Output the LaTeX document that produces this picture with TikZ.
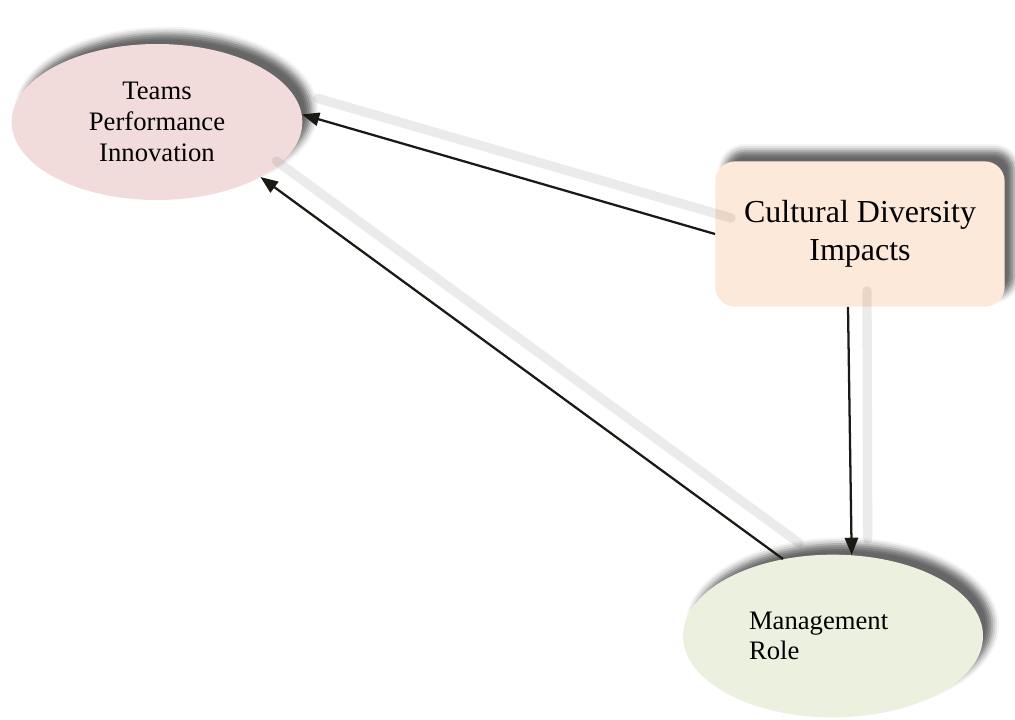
\documentclass[tikz,border=0pt]{standalone}
\usepackage{fontspec}
\setmainfont{Liberation Serif}
\usetikzlibrary{shapes.geometric}
\usetikzlibrary{arrows.meta}
\usetikzlibrary{shadows.blur}

\definecolor{teamsfill}{RGB}{242,220,219}
\definecolor{diversityfill}{RGB}{253,233,217}
\definecolor{managementfill}{RGB}{235,241,222}
\definecolor{linkcolor}{RGB}{26,26,20}

\tikzset{
	softshadow/.style={blur shadow={shadow xshift=7pt,shadow yshift=8pt,shadow blur radius=5pt,shadow opacity=60}},
	oval/.style={ellipse,inner sep=0pt,softshadow},
	link/.style={draw=linkcolor,line width=1.7pt,-{Triangle[length=13pt,width=10pt]}},
	linkshadow/.style={draw=black,line width=7pt,draw opacity=0.08,line cap=round},
}

\begin{document}
\begin{tikzpicture}[x=0.75pt,y=-0.75pt]
	\useasboundingbox (0,0) rectangle (1015,719);

	\node (teams) [oval,fill=teamsfill,minimum width=218pt,minimum height=117pt,align=center,font=\fontsize{20}{23}\selectfont] at (157,122) {Teams\\Performance\\Innovation};
	\node (diversity) [rectangle,rounded corners=15pt,fill=diversityfill,softshadow,minimum width=217pt,minimum height=109pt,inner sep=0pt,align=center,font=\fontsize{24}{28.5}\selectfont] at (860,234) {Cultural Diversity\\Impacts};
	\node (management) [oval,fill=managementfill,minimum width=225pt,minimum height=122pt,text width=126pt,align=left,font=\fontsize{20}{22.5}\selectfont] at (833,636) {Management\\Role};

	% shadows of the links
	\draw[linkshadow] ([shift={(16,-16)}]diversity.west) -- ([shift={(16,-16)}]teams.3);
	\draw[linkshadow] ([shift={(16,-16)}]management.123) -- ([shift={(16,-16)}]teams.332);
	\draw[linkshadow] ([shift={(7,-16)}]diversity.south) -- ([shift={(16,-16)}]management.77);

	% links
	\draw[link] (diversity.west) -- (teams.3);
	\draw[link] (management.123) -- (teams.332);
	\draw[link] ([xshift=-9pt]diversity.south) -- (management.77);
\end{tikzpicture}
\end{document}
